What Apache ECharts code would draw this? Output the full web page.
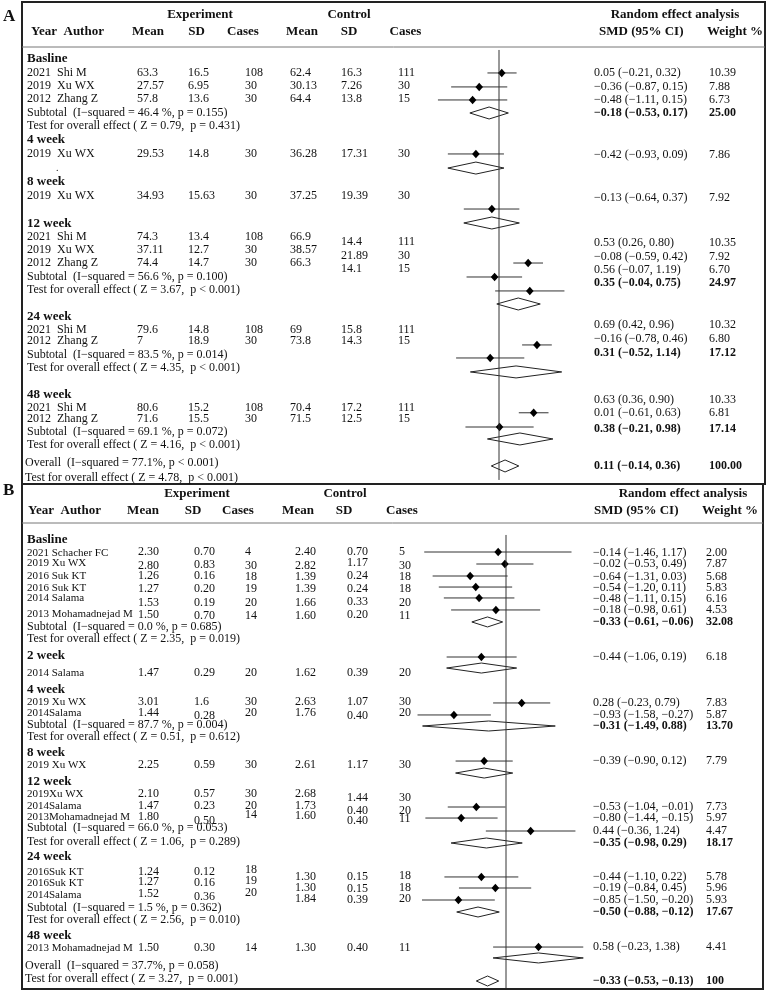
<!DOCTYPE html>
<html><head><meta charset="utf-8">
<script src="https://cdn.jsdelivr.net/npm/echarts@6/dist/echarts.min.js"></script>
<style>html,body{margin:0;padding:0;background:#fff}#c{width:767px;height:991px}</style>
</head><body><div id="c"></div>
<script>
// ================= Panel A data =================
const A_groups = ['Basline','4 week','8 week','12 week','24 week','48 week'];
const A_study = ['2021  Shi M','2019  Xu WX','2012  Zhang Z','2019  Xu WX','2019  Xu WX','2021  Shi M','2019  Xu WX','2012  Zhang Z','2021  Shi M','2012  Zhang Z','2021  Shi M','2012  Zhang Z'];
const A_group = [0,0,0,1,2,3,3,3,4,4,5,5];
const A_expMean = ['63.3','27.57','57.8','29.53','34.93','74.3','37.11','74.4','79.6','7','80.6','71.6'];
const A_expSD = ['16.5','6.95','13.6','14.8','15.63','13.4','12.7','14.7','14.8','18.9','15.2','15.5'];
const A_expN = ['108','30','30','30','30','108','30','30','108','30','108','30'];
const A_ctlMean = ['62.4','30.13','64.4','36.28','37.25','66.9','38.57','66.3','69','73.8','70.4','71.5'];
const A_ctlSD = ['16.3','7.26','13.8','17.31','19.39','14.4','21.89','14.1','15.8','14.3','17.2','12.5'];
const A_ctlN = ['111','30','15','30','30','111','30','15','111','15','111','15'];
const A_smd = [0.05,-0.36,-0.48,-0.42,-0.13,0.53,-0.08,0.56,0.69,-0.16,0.63,0.01];
const A_lo = [-0.21,-0.87,-1.11,-0.93,-0.64,0.26,-0.59,-0.07,0.42,-0.78,0.36,-0.61];
const A_hi = [0.32,0.15,0.15,0.09,0.37,0.80,0.42,1.19,0.96,0.46,0.90,0.63];
const A_weight = ['10.39','7.88','6.73','7.86','7.92','10.35','7.92','6.70','10.32','6.80','10.33','6.81'];
const A_subSmd = [-0.18,-0.42,-0.13,0.35,0.31,0.38];
const A_subLo = [-0.53,-0.93,-0.64,-0.04,-0.52,-0.21];
const A_subHi = [0.17,0.09,0.37,0.75,1.14,0.98];
const A_subWeight = ['25.00',null,null,'24.97','17.12','17.14'];
const A_subHet = ['46.4 %, p = 0.155',null,null,'56.6 %, p = 0.100','83.5 %, p = 0.014','69.1 %, p = 0.072'];
const A_subTest = ['Z = 0.79,  p = 0.431',null,null,'Z = 3.67,  p < 0.001','Z = 4.35,  p < 0.001','Z = 4.16,  p < 0.001'];
const A_allSmd = [0.11,-0.14,0.36];
const A_allWeight = '100.00';
const A_allHet = '77.1%, p < 0.001';
const A_allTest = 'Z = 4.78,  p < 0.001';

// ================= Panel B data =================
const B_groups = ['Basline','2 week','4 week','8 week','12 week','24 week','48 week'];
const B_study = ['2021 Schacher FC','2019 Xu WX','2016 Suk KT','2016 Suk KT','2014 Salama','2013 Mohamadnejad M','2014 Salama','2019 Xu WX','2014Salama','2019 Xu WX','2019Xu WX','2014Salama','2013Mohamadnejad M','2016Suk KT','2016Suk KT','2014Salama','2013 Mohamadnejad M'];
const B_group = [0,0,0,0,0,0,1,2,2,3,4,4,4,5,5,5,6];
const B_expMean = ['2.30','2.80','1.26','1.27','1.53','1.50','1.47','3.01','1.44','2.25','2.10','1.47','1.80','1.24','1.27','1.52','1.50'];
const B_expSD = ['0.70','0.83','0.16','0.20','0.19','0.70','0.29','1.6','0.28','0.59','0.57','0.23','0.50','0.12','0.16','0.36','0.30'];
const B_expN = ['4','30','18','19','20','14','20','30','20','30','30','20','14','18','19','20','14'];
const B_ctlMean = ['2.40','2.82','1.39','1.39','1.66','1.60','1.62','2.63','1.76','2.61','2.68','1.73','1.60','1.30','1.30','1.84','1.30'];
const B_ctlSD = ['0.70','1.17','0.24','0.24','0.33','0.20','0.39','1.07','0.40','1.17','1.44','0.40','0.40','0.15','0.15','0.39','0.40'];
const B_ctlN = ['5','30','18','18','20','11','20','30','20','30','30','20','11','18','18','20','11'];
const B_smd = [-0.14,-0.02,-0.64,-0.54,-0.48,-0.18,-0.44,0.28,-0.93,-0.39,-0.53,-0.80,0.44,-0.44,-0.19,-0.85,0.58];
const B_lo = [-1.46,-0.53,-1.31,-1.20,-1.11,-0.98,-1.06,-0.23,-1.58,-0.90,-1.04,-1.44,-0.36,-1.10,-0.84,-1.50,-0.23];
const B_hi = [1.17,0.49,0.03,0.11,0.15,0.61,0.19,0.79,-0.27,0.12,-0.01,-0.15,1.24,0.22,0.45,-0.20,1.38];
const B_weight = ['2.00','7.87','5.68','5.83','6.16','4.53','6.18','7.83','5.87','7.79','7.73','5.97','4.47','5.78','5.96','5.93','4.41'];
const B_subSmd = [-0.33,-0.44,-0.31,-0.39,-0.35,-0.50,0.58];
const B_subLo = [-0.61,-1.06,-1.49,-0.90,-0.98,-0.88,-0.23];
const B_subHi = [-0.06,0.19,0.88,0.12,0.29,-0.12,1.38];
const B_subWeight = ['32.08',null,'13.70',null,'18.17','17.67',null];
const B_subHet = ['0.0 %, p = 0.685',null,'87.7 %, p = 0.004',null,'66.0 %, p = 0.053','1.5 %, p = 0.362',null];
const B_subTest = ['Z = 2.35,  p = 0.019',null,'Z = 0.51,  p = 0.612',null,'Z = 1.06,  p = 0.289','Z = 2.56,  p = 0.010',null];
const B_allSmd = [-0.33,-0.53,-0.13];
const B_allWeight = '100';
const B_allHet = '37.7%, p = 0.058';
const B_allTest = 'Z = 3.27,  p = 0.001';

// ================= Layout (row positions, in row units) =================
const A_L = {
  groupRow: [0, 6.09, 9.25, 12.4, 19.4, 25.26],
  labelRow: [1.05,2.03,3.0,7.14,10.3,13.38,14.36,15.34,20.38,21.2,26.24,27.07],
  ctlRow:   [1.05,2.03,3.0,7.14,10.3,13.76,14.81,15.79,20.38,21.2,26.24,27.07],
  subRow:  [4.06,null,null,16.39,22.26,28.05],
  testRow: [5.04,null,null,17.37,23.23,29.02],
  allRow: 30.38, allTestRow: 31.5,
  markRow: [1.05,2.1,3.08,7.14,11.28,15.34,16.39,17.44,21.5,22.48,26.6,27.67],
  diamRow: [4.06,8.2,12.33,18.42,23.53,28.57], allDiamRow: 30.6,
  smdRow: [1.05,2.1,3.08,7.2,10.45,13.83,14.89,15.86,20.0,21.05,25.64,26.6],
  subSmdRow: [4.06,null,null,16.84,22.1,27.82], allSmdRow: 30.6,
  nullLine: [-0.68, 31.65],
  cols: [137,188,245,290,341,398], labelX: 27, labelSize: 12, smdX: 594, wX: 709, diamH: 6
};
const B_L = {
  groupRow: [0, 9.65, 12.5, 17.75, 20.15, 26.4, 33],
  labelRow: [1.08,1.92,3.0,4.0,4.83,6.17,11.08,13.5,14.42,18.75,21.17,22.17,23.08,27.67,28.58,29.58,34.0],
  numRow: [
    [1.0,1.0,1.0,1.0,1.0,1.0],
    [2.17,2.1,2.17,2.17,1.92,2.17],
    [3.0,3.0,3.05,3.05,3.0,3.05],
    [4.05,4.08,4.08,4.08,4.05,4.08],
    [5.25,5.25,5.25,5.25,5.17,5.25],
    [6.25,6.33,6.33,6.33,6.25,6.33],
    [11.08,11.08,11.08,11.08,11.08,11.08],
    [13.5,13.5,13.5,13.5,13.5,13.5],
    [14.42,14.67,14.42,14.42,14.67,14.42],
    [18.75,18.75,18.75,18.75,18.75,18.75],
    [21.17,21.17,21.17,21.17,21.5,21.5],
    [22.17,22.17,22.17,22.17,22.58,22.58],
    [23.08,23.42,22.92,23.0,23.42,23.25],
    [27.67,27.67,27.5,28.08,28.08,28.0],
    [28.5,28.58,28.4,29.0,29.1,29.0],
    [29.5,29.75,29.4,29.92,30.0,29.92],
    [34.0,34.0,34.0,34.0,34.0,34.0]
  ],
  subRow:  [7.25,null,15.42,null,24.0,30.67,null],
  testRow: [8.25,null,16.42,null,25.17,31.67,null],
  allRow: 35.5, allTestRow: 36.55,
  markRow: [1.0,2.0,3.0,3.92,4.83,5.83,9.75,13.58,14.58,18.42,22.25,23.17,24.25,28.08,29.0,30.0,33.92],
  diamRow: [6.83,10.67,15.5,19.42,25.25,31.0,34.83], allDiamRow: 36.75,
  smdRow: [1.08,2.0,3.08,4.0,4.92,5.83,9.75,13.58,14.58,18.42,22.25,23.17,24.25,28.08,29.0,30.0,33.92],
  subSmdRow: [6.83,null,15.5,null,25.25,31.0,null], allSmdRow: 36.75,
  nullLine: [-0.42, 37.42],
  cols: [138,194,245,295,347,399], labelX: 27, labelSize: 11, smdX: 593, wX: 706, diamH: 5
};

const FONT = '"Liberation Serif", "Times New Roman", serif';
const INK = '#111';

function fmt(v){ return (v < 0 ? '\u2212' : '') + Math.abs(v).toFixed(2); }
function ci(s,l,h){ return fmt(s) + ' (' + fmt(l) + ', ' + fmt(h) + ')'; }

function ciRender(params, api){
  const y = api.coord([0, api.value(3)])[1];
  const xl = api.coord([api.value(0), 0])[0];
  const xh = api.coord([api.value(1), 0])[0];
  const xc = api.coord([api.value(2), 0])[0];
  return {type:'group', children:[
    {type:'line', shape:{x1:xl,y1:y,x2:xh,y2:y}, style:{stroke:'#333', lineWidth:1}},
    {type:'polygon', shape:{points:[[xc-3.8,y],[xc,y-4.3],[xc+3.8,y],[xc,y+4.3]]}, style:{fill:'#000'}}
  ]};
}
function diamRender(h){
  return function(params, api){
    const y = api.coord([0, api.value(3)])[1];
    const xl = api.coord([api.value(0), 0])[0];
    const xh = api.coord([api.value(1), 0])[0];
    const xc = api.coord([api.value(2), 0])[0];
    return {type:'polygon', shape:{points:[[xl,y],[xc,y-h],[xh,y],[xc,y+h]]},
      style:{fill:'rgba(0,0,0,0)', stroke:'#222', lineWidth:1}};
  };
}

function panelSeries(idx, L, smd, lo, hi, subSmd, subLo, subHi, allSmd){
  const diamData = subSmd.map((v,i)=>[subLo[i], subHi[i], v, L.diamRow[i]]);
  diamData.push([allSmd[1], allSmd[2], allSmd[0], L.allDiamRow]);
  return [
    {type:'line', xAxisIndex:idx, yAxisIndex:idx, silent:true, symbol:'none',
     data:[[0, L.nullLine[0]],[0, L.nullLine[1]]], lineStyle:{color:'#333', width:1}},
    {type:'custom', xAxisIndex:idx, yAxisIndex:idx, silent:true, clip:false,
     renderItem: ciRender, encode:{x:[0,1,2], y:3},
     data: smd.map((v,i)=>[lo[i], hi[i], v, L.markRow[i]])},
    {type:'custom', xAxisIndex:idx, yAxisIndex:idx, silent:true, clip:false,
     renderItem: diamRender(L.diamH), encode:{x:[0,1,2], y:3},
     data: diamData}
  ];
}

const chart = echarts.init(document.getElementById('c'), null, {renderer:'canvas'});
const option = {
  animation:false,
  backgroundColor:'#fff',
  grid:[
    {left:389, width:220, top:45.7, height:438.9},
    {left:394, width:224, top:528, height:462}
  ],
  xAxis:[
    {gridIndex:0, type:'value', min:-2, max:2, show:false},
    {gridIndex:1, type:'value', min:-2, max:2, show:false}
  ],
  yAxis:[
    {gridIndex:0, type:'value', min:-1, max:32, inverse:true, show:false},
    {gridIndex:1, type:'value', min:-1, max:37.5, inverse:true, show:false}
  ],
  series: [].concat(
    panelSeries(0, A_L, A_smd, A_lo, A_hi, A_subSmd, A_subLo, A_subHi, A_allSmd),
    panelSeries(1, B_L, B_smd, B_lo, B_hi, B_subSmd, B_subLo, B_subHi, B_allSmd)
  )
};
chart.setOption(option);

// ================= Text & frame =================
const G = [];
function T(x, y, text, o){
  o = o || {};
  G.push({type:'text', x:x, y:y, silent:true, z:10,
    style:{text:text, fill:INK, font:(o.bold?'bold ':'') + (o.size||12) + 'px ' + FONT,
      textAlign:o.align||'left', textVerticalAlign:'middle', align:o.align||'left', verticalAlign:'middle'}});
}
function Ln(x1,y1,x2,y2,c,w){
  G.push({type:'line', silent:true, z:5, shape:{x1,y1,x2,y2}, style:{stroke:c, lineWidth:w}});
}

// frames
G.push({type:'rect', silent:true, z:5, shape:{x:22, y:2, width:743, height:482}, style:{fill:'none', stroke:'#222', lineWidth:2}});
G.push({type:'rect', silent:true, z:5, shape:{x:22, y:484, width:741, height:505}, style:{fill:'none', stroke:'#222', lineWidth:2}});
Ln(22,47,765,47,'#777',1);
Ln(22,523,763,523,'#777',1);
T(3,17,'A',{bold:true,size:17});
T(3,491,'B',{bold:true,size:17});

function headers(y1, y2, c){
  T(c.exp, y1, 'Experiment', {bold:true,size:13,align:'center'});
  T(c.ctl, y1, 'Control', {bold:true,size:13,align:'center'});
  T(c.rea, y1, 'Random effect analysis', {bold:true,size:13,align:'center'});
  T(c.ya, y2, 'Year  Author', {bold:true,size:13});
  const names = ['Mean','SD','Cases','Mean','SD','Cases'];
  names.forEach((n,i)=>T(c.hc[i], y2, n, {bold:true,size:13,align:'center'}));
  T(c.smd, y2, 'SMD (95% CI)', {bold:true,size:13});
  T(c.w, y2, 'Weight %', {bold:true,size:13});
}
headers(15, 32, {exp:200, ctl:349, rea:675, ya:31, hc:[148,196.5,243,302,349,405.5], smd:599, w:707});
headers(494, 511, {exp:197, ctl:345, rea:683, ya:28, hc:[143,193,238,298,344,402], smd:594, w:702});

function panelText(idx, L, d){
  const py = r => chart.convertToPixel({yAxisIndex:idx}, r);
  d.groups.forEach((g,i)=>T(L.labelX, py(L.groupRow[i]), g, {bold:true,size:13}));
  d.study.forEach((s,i)=>{
    T(L.labelX, py(L.labelRow[i]), s, {size:L.labelSize});
    const vals = [d.expMean[i], d.expSD[i], d.expN[i], d.ctlMean[i], d.ctlSD[i], d.ctlN[i]];
    vals.forEach((v,k)=>{
      let r;
      if (L.numRow) r = L.numRow[i][k];
      else r = k >= 4 ? L.ctlRow[i] : L.labelRow[i];
      T(L.cols[k], py(r), v);
    });
    T(L.smdX, py(L.smdRow[i]), ci(d.smd[i], d.lo[i], d.hi[i]));
    T(L.wX, py(L.smdRow[i]), d.weight[i]);
  });
  d.subHet.forEach((h,i)=>{
    if (!h) return;
    T(L.labelX, py(L.subRow[i]), 'Subtotal  (I\u2212squared = ' + h + ')');
    T(L.labelX, py(L.testRow[i]), 'Test for overall effect ( ' + d.subTest[i] + ')');
    T(L.smdX, py(L.subSmdRow[i]), ci(d.subSmd[i], d.subLo[i], d.subHi[i]), {bold:true});
    T(L.wX, py(L.subSmdRow[i]), d.subWeight[i], {bold:true});
  });
  T(L.labelX-2, py(L.allRow), 'Overall  (I\u2212squared = ' + d.allHet + ')');
  T(L.labelX-2, py(L.allTestRow), 'Test for overall effect ( ' + d.allTest + ')');
  T(L.smdX, py(L.allSmdRow), ci(d.allSmd[0], d.allSmd[1], d.allSmd[2]), {bold:true});
  T(L.wX, py(L.allSmdRow), d.allWeight, {bold:true});
}
panelText(0, A_L, {groups:A_groups, study:A_study, expMean:A_expMean, expSD:A_expSD, expN:A_expN,
  ctlMean:A_ctlMean, ctlSD:A_ctlSD, ctlN:A_ctlN, smd:A_smd, lo:A_lo, hi:A_hi, weight:A_weight,
  subSmd:A_subSmd, subLo:A_subLo, subHi:A_subHi, subWeight:A_subWeight, subHet:A_subHet, subTest:A_subTest,
  allSmd:A_allSmd, allWeight:A_allWeight, allHet:A_allHet, allTest:A_allTest});
panelText(1, B_L, {groups:B_groups, study:B_study, expMean:B_expMean, expSD:B_expSD, expN:B_expN,
  ctlMean:B_ctlMean, ctlSD:B_ctlSD, ctlN:B_ctlN, smd:B_smd, lo:B_lo, hi:B_hi, weight:B_weight,
  subSmd:B_subSmd, subLo:B_subLo, subHi:B_subHi, subWeight:B_subWeight, subHet:B_subHet, subTest:B_subTest,
  allSmd:B_allSmd, allWeight:B_allWeight, allHet:B_allHet, allTest:B_allTest});
// stray dot in panel A
T(56, chart.convertToPixel({yAxisIndex:0}, 8.2), '.', {size:10});

chart.setOption({graphic:{elements:G}});
</script>
</body></html>
